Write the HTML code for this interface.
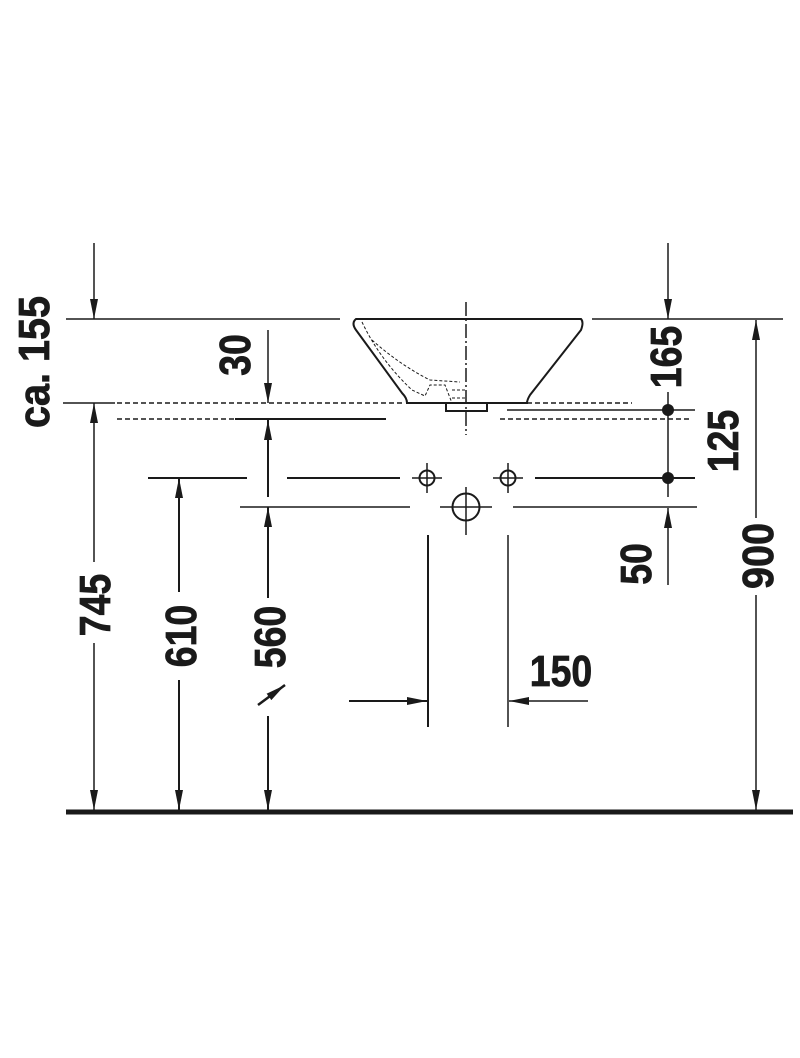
<!DOCTYPE html>
<html><head><meta charset="utf-8"><style>
html,body{margin:0;padding:0;background:#fff;}
svg{display:block;}
text{font-family:"Liberation Sans",sans-serif;font-weight:bold;font-size:44px;fill:#1a1a1a;stroke:#1a1a1a;stroke-width:0.8px;}
</style></head><body>
<svg width="800" height="1058" viewBox="0 0 800 1058" xmlns="http://www.w3.org/2000/svg">
<defs>
<marker id="a" viewBox="0 0 20 8" refX="20" refY="4" markerWidth="20" markerHeight="8" markerUnits="userSpaceOnUse" orient="auto"><path d="M0,0 L20,4 L0,8 Z" fill="#1a1a1a"/></marker>
</defs>
<g stroke="#1a1a1a" fill="none" stroke-width="1.5">
<line x1="66" y1="319" x2="340" y2="319"/>
<line x1="592" y1="319" x2="783" y2="319"/>
<line x1="63" y1="403" x2="115" y2="403"/>
<line x1="117" y1="403" x2="405" y2="403" stroke-dasharray="5,3"/>
<line x1="527" y1="403" x2="632" y2="403" stroke-dasharray="5,3"/>
<line x1="117" y1="419" x2="235" y2="419" stroke-dasharray="5,3"/>
<line x1="235" y1="419" x2="386" y2="419" stroke-width="2"/>
<line x1="500" y1="419" x2="690" y2="419" stroke-dasharray="5,3"/>
<line x1="507" y1="410" x2="695" y2="410"/>
<line x1="148" y1="478" x2="247" y2="478" stroke-width="2"/>
<line x1="287" y1="478" x2="400" y2="478" stroke-width="2"/>
<line x1="535" y1="478" x2="695" y2="478" stroke-width="2"/>
<line x1="240" y1="507" x2="410" y2="507"/>
<line x1="513" y1="507" x2="697" y2="507"/>
<path d="M356,319 L581,319 Q584,322 581,330 L530,395 Q527,400 527,403 L407,403 Q407,398 402,393 L356,330 Q351,323 356,319 Z" stroke-width="2"/>
<path d="M446,403 L446,411 L487,411 L487,403" stroke-width="2"/>
<path d="M362,322 Q380,360 412,390 L425,396 L430,385 L445,385 L452,403" stroke-width="1" stroke-dasharray="3,2"/>
<path d="M372,340 Q400,365 430,380 L460,382" stroke-width="1" stroke-dasharray="3,2"/>
<path d="M452,390 L466,390 M452,398 L466,398" stroke-width="1" stroke-dasharray="3,2"/>
<line x1="466" y1="302" x2="466" y2="435" stroke-dasharray="14,3,2,3"/>
<line x1="466" y1="487" x2="466" y2="535"/>
<circle cx="427" cy="478" r="7.5" stroke-width="2"/>
<line x1="412" y1="478" x2="442" y2="478"/><line x1="427" y1="463" x2="427" y2="493"/>
<circle cx="508" cy="478" r="7.5" stroke-width="2"/>
<line x1="493" y1="478" x2="523" y2="478"/><line x1="508" y1="463" x2="508" y2="493"/>
<circle cx="466" cy="507" r="13.5" stroke-width="2"/>
<line x1="440" y1="507" x2="492" y2="507"/>
<line x1="66" y1="812" x2="793" y2="812" stroke-width="5"/>
<line x1="94" y1="243" x2="94" y2="319" marker-end="url(#a)"/>
<line x1="94" y1="562" x2="94" y2="403" marker-end="url(#a)"/>
<line x1="94" y1="643" x2="94" y2="810" marker-end="url(#a)"/>
<line x1="179" y1="592" x2="179" y2="478" marker-end="url(#a)" stroke-width="2"/>
<line x1="179" y1="680" x2="179" y2="810" marker-end="url(#a)" stroke-width="2"/>
<line x1="268" y1="330" x2="268" y2="403" marker-end="url(#a)"/>
<line x1="268" y1="497" x2="268" y2="420" marker-end="url(#a)" stroke-width="2"/>
<line x1="268" y1="598" x2="268" y2="507" marker-end="url(#a)" stroke-width="2"/>
<line x1="268" y1="716" x2="268" y2="810" marker-end="url(#a)" stroke-width="2"/>
<line x1="668" y1="243" x2="668" y2="319" marker-end="url(#a)"/>
<line x1="668" y1="392" x2="668" y2="497"/>
<line x1="668" y1="585" x2="668" y2="508" marker-end="url(#a)"/>
<line x1="756" y1="518" x2="756" y2="320" marker-end="url(#a)"/>
<line x1="756" y1="595" x2="756" y2="810" marker-end="url(#a)"/>
<line x1="428" y1="535" x2="428" y2="727" stroke-width="2"/>
<line x1="508" y1="535" x2="508" y2="727"/>
<line x1="349" y1="701" x2="427" y2="701" marker-end="url(#a)" stroke-width="2"/>
<line x1="588" y1="701" x2="509" y2="701" marker-end="url(#a)"/>
<line x1="258" y1="705" x2="285" y2="685" marker-end="url(#a)" stroke-width="2.5"/>
</g>
<circle cx="668" cy="410" r="6" fill="#1a1a1a"/>
<circle cx="668" cy="478" r="6" fill="#1a1a1a"/>
<g text-anchor="middle">
<text transform="translate(49,362) rotate(-90) scale(0.9,1)">ca. 155</text>
<text transform="translate(250,355) rotate(-90) scale(0.85,1)">30</text>
<text transform="translate(110,605) rotate(-90) scale(0.85,1)">745</text>
<text transform="translate(196,636) rotate(-90) scale(0.85,1)">610</text>
<text transform="translate(285,637) rotate(-90) scale(0.85,1)">560</text>
<text transform="translate(681,357) rotate(-90) scale(0.85,1)">165</text>
<text transform="translate(738,441) rotate(-90) scale(0.85,1)">125</text>
<text transform="translate(651,564) rotate(-90) scale(0.85,1)">50</text>
<text transform="translate(773,556) rotate(-90) scale(0.9,1)">900</text>
<text transform="translate(561,686) scale(0.85,1)">150</text>
</g>
</svg>
</body></html>
